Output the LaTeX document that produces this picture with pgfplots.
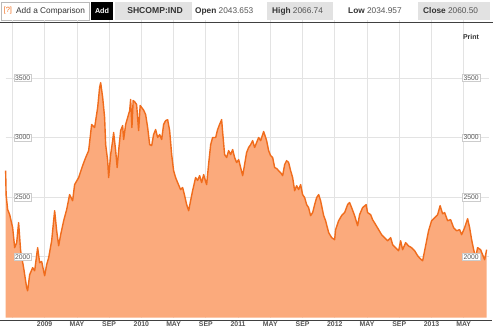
\documentclass[border=0pt]{standalone}
\usepackage{pgfplots}
\pgfplotsset{compat=1.18}
\usepackage{pgfplotstable}
\usepackage{fontspec}
\setmainfont{Liberation Sans}
\definecolor{lineor}{RGB}{240,108,28}
\definecolor{fillor}{RGB}{251,170,124}
\definecolor{hdrgray}{RGB}{226,226,226}
\definecolor{txt}{RGB}{51,51,51}
\definecolor{txtl}{RGB}{85,85,85}
\pgfplotstableread{
x y
-4.84 2722
-4.78 2520
-4.59 2395
-4.34 2353
-3.97 2244
-3.72 2076
-3.47 2118
-3.23 2286
-2.98 2050
-2.61 1908
-2.23 1740
-2.11 1714
-1.86 1849
-1.49 1908
-1.24 1882
-0.87 2076
-0.62 1950
-0.37 1960
0.00 1840
0.25 1933
0.50 1992
0.87 2134
1.24 2386
1.49 2218
1.74 2092
1.99 2185
2.36 2302
2.73 2395
3.10 2521
3.47 2470
3.72 2605
4.22 2664
4.71 2764
5.09 2832
5.46 2890
5.83 3109
6.20 3084
6.58 3252
6.82 3420
6.95 3460
7.20 3336
7.44 3168
7.57 2941
7.82 2806
7.94 2664
8.19 2857
8.44 2974
8.56 3042
8.81 2890
9.00 2748
9.18 2890
9.43 3058
9.68 3100
9.80 2983
10.05 3109
10.30 3168
10.55 3226
10.67 3319
10.83 3084
10.98 3310
11.17 3300
11.41 3277
11.66 3058
11.85 3269
12.03 3252
12.28 3230
12.53 3193
12.78 3084
13.03 2941
13.28 2932
13.52 3025
13.77 3067
14.02 3000
14.27 3025
14.52 2983
14.76 3109
15.01 3142
15.26 3150
15.51 3058
15.76 2857
16.00 2722
16.25 2664
16.50 2622
16.87 2563
17.12 2580
17.37 2512
17.62 2437
17.87 2386
18.11 2470
18.36 2554
18.73 2664
18.98 2640
19.23 2680
19.48 2622
19.73 2689
19.98 2630
20.10 2605
20.35 2780
20.60 2940
20.84 3000
21.22 3000
21.46 3067
21.71 3110
21.96 3150
22.08 3050
22.33 2857
22.58 2832
22.83 2890
23.08 2857
23.33 2899
23.57 2832
23.82 2790
24.07 2815
24.32 2748
24.57 2680
24.81 2773
25.06 2874
25.31 2916
25.56 2941
25.81 2974
26.05 2916
26.30 2958
26.55 3000
26.80 2974
27.05 3025
27.17 3050
27.42 3000
27.54 2974
27.79 2890
28.04 2848
28.29 2832
28.54 2748
28.78 2740
29.03 2722
29.28 2705
29.53 2680
29.78 2773
30.02 2806
30.27 2790
30.52 2722
30.77 2664
31.02 2554
31.27 2596
31.51 2563
31.76 2605
32.01 2521
32.26 2496
32.51 2437
32.75 2412
33.00 2345
33.25 2370
33.50 2437
33.75 2496
34.00 2521
34.24 2470
34.62 2345
34.86 2302
35.24 2202
35.61 2160
35.98 2143
36.10 2227
36.48 2302
36.85 2345
37.22 2370
37.59 2437
37.84 2454
38.09 2412
38.46 2345
38.83 2260
39.08 2353
39.45 2412
39.89 2437
40.07 2370
40.45 2353
40.69 2311
41.07 2269
41.44 2227
41.81 2185
42.18 2160
42.56 2134
42.93 2160
43.18 2101
43.55 2076
43.92 2050
44.17 2134
44.42 2059
44.79 2118
45.16 2090
45.53 2076
45.91 2050
46.28 2008
46.65 1980
46.90 1966
47.27 2092
47.64 2218
48.01 2302
48.39 2328
48.76 2353
49.07 2428
49.38 2360
49.63 2370
50.00 2302
50.37 2311
50.74 2244
51.12 2218
51.49 2227
51.74 2185
52.11 2244
52.48 2319
52.73 2244
52.98 2143
53.23 2059
53.47 1992
53.72 2076
54.09 2059
54.34 2017
54.59 1975
54.84 2059
}\shdata
\tikzset{ylab/.style={draw=gray!40, fill=white, inner sep=1.2pt, text=txtl, font=\fontsize{6.8}{7}\selectfont}}
\begin{document}
\begin{tikzpicture}[x=1pt,y=1pt]
\useasboundingbox (0,0) rectangle (500,333);
\fill[white] (0,0) rectangle (500,333);
% header
\draw[gray!55, fill=white] (1,313) rectangle (89,331);
\node[anchor=west, inner sep=0pt, text=lineor, font=\fontsize{7.5}{8}\selectfont] at (3.5,322) {[?]};
\node[anchor=west, inner sep=0pt, text=txt, font=\fontsize{8.3}{9}\selectfont] at (16,322) {Add a Comparison};
\fill[black] (91,313) rectangle (113,331);
\node[inner sep=0pt, text=white, font=\fontsize{7.2}{8}\selectfont\bfseries] at (102,322) {Add};
\fill[hdrgray] (115,313) rectangle (192,331);
\node[inner sep=0pt, text=txt, font=\fontsize{8.6}{9}\selectfont\bfseries] at (155,322) {SHCOMP:IND};
\node[anchor=west, inner sep=0pt, text=txtl, font=\fontsize{8.3}{9}\selectfont] at (195,322) {\textbf{\color{txt}Open} 2043.653};
\fill[hdrgray] (267,313) rectangle (333,331);
\node[anchor=west, inner sep=0pt, text=txtl, font=\fontsize{8.3}{9}\selectfont] at (272,322) {\textbf{\color{txt}High} 2066.74};
\node[anchor=west, inner sep=0pt, text=txtl, font=\fontsize{8.3}{9}\selectfont] at (348,322) {\textbf{\color{txt}Low} 2034.957};
\fill[hdrgray] (418,313) rectangle (490,331);
\node[anchor=west, inner sep=0pt, text=txtl, font=\fontsize{8.3}{9}\selectfont] at (423,322) {\textbf{\color{txt}Close} 2060.50};
\begin{axis}[
  at={(7,13)}, anchor=south west,
  scale only axis, width=483pt, height=298pt,
  xmin=-4.84, xmax=55.09, ymin=1490, ymax=3990,
  axis line style={draw=none},
  major tick length=0pt,
  xtick={-4,0,4,8,12,16,20,24,28,32,36,40,44,48,52},
  xticklabels={,2009,MAY,SEP,2010,MAY,SEP,2011,MAY,SEP,2012,MAY,SEP,2013,MAY},
  xticklabel style={anchor=center, yshift=-6.5pt, text=txtl, font=\fontsize{6.9}{7}\selectfont\bfseries},
  ytick={2000,2500,3000,3500},
  yticklabels={},
  grid=major,
  major grid style={draw=gray!22, line width=0.7pt},
  clip=false,
]
\addplot[fill=fillor, draw=none] table[x=x,y=y] {\shdata} \closedcycle;
\addplot[draw=lineor, line width=1.4pt, line join=round] table[x=x,y=y] {\shdata};
\node[ylab] at (axis cs:-2.73,2000) {2000};
\node[ylab] at (axis cs:-2.73,2500) {2500};
\node[ylab] at (axis cs:-2.73,3000) {3000};
\node[ylab] at (axis cs:-2.73,3500) {3500};
\node[ylab] at (axis cs:52.92,2000) {2000};
\node[ylab] at (axis cs:52.92,2500) {2500};
\node[ylab] at (axis cs:52.92,3000) {3000};
\node[ylab] at (axis cs:52.92,3500) {3500};
\end{axis}
\draw[gray!50!black, line width=0.8pt] (0,311) -- (493,311);
\draw[gray!50!black, line width=0.8pt] (0,13) -- (492,13);
\node[inner sep=0pt, text=txt, font=\fontsize{7}{8}\selectfont\bfseries] at (471,296) {Print};
\end{tikzpicture}
\end{document}
